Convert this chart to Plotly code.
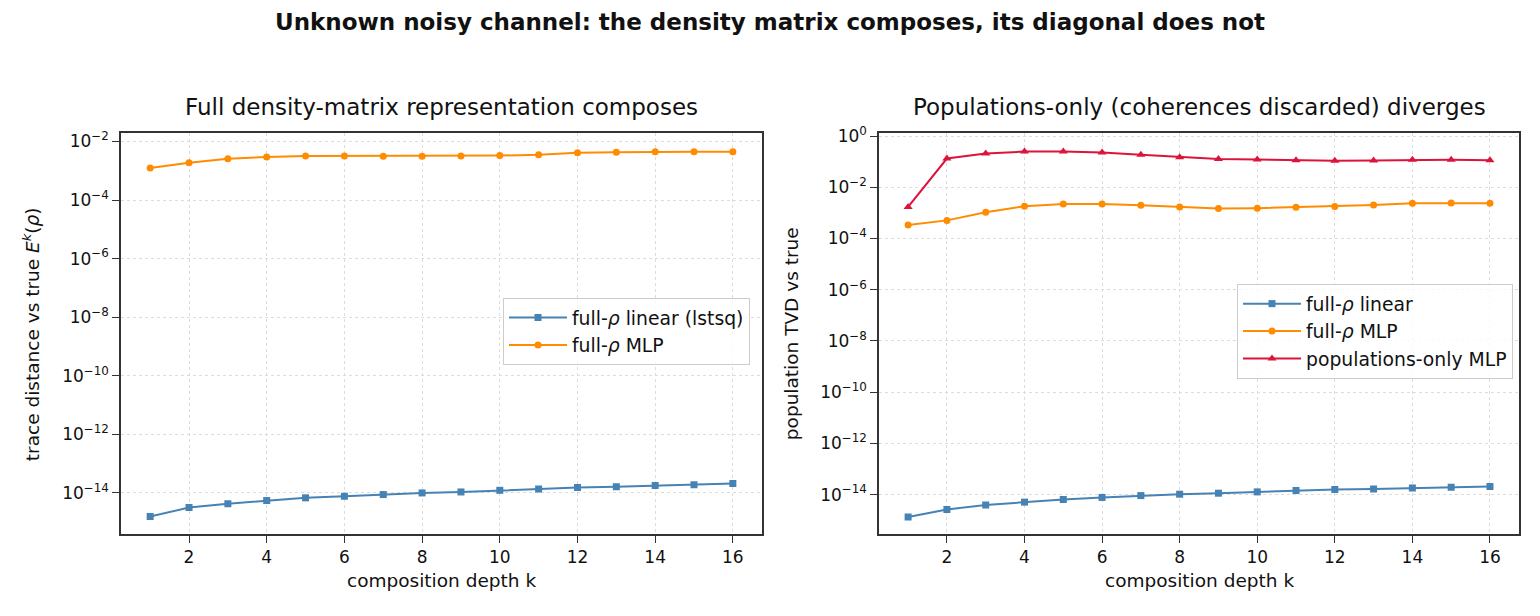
import plotly.graph_objects as go
from plotly.subplots import make_subplots

k = list(range(1, 17))

left_linear = [1.56e-15, 3.16e-15, 4.3e-15, 5.5e-15, 6.8e-15, 7.7e-15, 8.8e-15, 1.0e-14,
               1.08e-14, 1.23e-14, 1.37e-14, 1.52e-14, 1.64e-14, 1.78e-14, 1.92e-14, 2.08e-14]
left_mlp = [1.25e-3, 1.88e-3, 2.55e-3, 2.95e-3, 3.2e-3, 3.2e-3, 3.15e-3, 3.15e-3,
            3.2e-3, 3.3e-3, 3.55e-3, 4.1e-3, 4.25e-3, 4.45e-3, 4.5e-3, 4.45e-3]

right_linear = [1.33e-15, 2.63e-15, 3.9e-15, 5.06e-15, 6.4e-15, 7.7e-15, 9.1e-15, 1.03e-14,
                1.13e-14, 1.27e-14, 1.43e-14, 1.56e-14, 1.65e-14, 1.81e-14, 1.92e-14, 2.04e-14]
right_mlp = [3.35e-4, 5.1e-4, 1.06e-3, 1.82e-3, 2.23e-3, 2.23e-3, 1.99e-3, 1.71e-3,
             1.47e-3, 1.52e-3, 1.66e-3, 1.76e-3, 2.04e-3, 2.37e-3, 2.44e-3, 2.37e-3]
right_pop = [1.7e-3, 0.133, 0.209, 0.248, 0.248, 0.228, 0.185, 0.150,
             0.126, 0.122, 0.115, 0.108, 0.111, 0.118, 0.118, 0.115]

x_ticks = [2, 4, 6, 8, 10, 12, 14, 16]
left_yticks_exp = [-2, -4, -6, -8, -10, -12, -14]
right_yticks_exp = [0, -2, -4, -6, -8, -10, -12, -14]

BLUE = "#4682B4"
ORANGE = "#FF8C00"
RED = "#DC143C"
FONT = "DejaVu Sans"

fig = make_subplots(rows=1, cols=2)

def add(col, y, name, color, symbol, size, legend):
    fig.add_trace(go.Scatter(x=k, y=y, name=name, mode="lines+markers",
                             line=dict(color=color, width=2),
                             marker=dict(symbol=symbol, size=size, color=color),
                             legend=legend), row=1, col=col)

add(1, left_linear, "full-<i>ρ</i> linear (lstsq)", BLUE, "square", 7, "legend")
add(1, left_mlp, "full-<i>ρ</i> MLP", ORANGE, "circle", 7, "legend")
add(2, right_linear, "full-<i>ρ</i> linear", BLUE, "square", 7, "legend2")
add(2, right_mlp, "full-<i>ρ</i> MLP", ORANGE, "circle", 7, "legend2")
add(2, right_pop, "populations-only MLP", RED, "triangle-up", 8, "legend2")

def sup(e):
    return "10<sup>" + ("−" + str(-e) if e < 0 else str(e)) + "</sup>"

axis_common = dict(showline=True, linecolor="#333333", linewidth=1.5, mirror=True,
                   ticks="outside", ticklen=7, tickwidth=1.2, tickcolor="#333333",
                   showgrid=True, gridcolor="#dcdcdc", griddash="dot", gridwidth=1,
                   zeroline=False, tickfont=dict(family=FONT, size=17, color="#111"))

fig.update_xaxes(**axis_common, range=[0.25, 16.75], tickvals=x_ticks)
fig.update_xaxes(domain=[0.0786, 0.4948], row=1, col=1)
fig.update_xaxes(domain=[0.5708, 0.9864], row=1, col=2)
fig.update_yaxes(**axis_common, type="log", domain=[0.1347, 0.7955])
fig.update_yaxes(range=[-15.41, -1.715], tickvals=[10.0 ** e for e in left_yticks_exp],
                 ticktext=[sup(e) for e in left_yticks_exp], row=1, col=1)
fig.update_yaxes(range=[-15.55, 0.115], tickvals=[10.0 ** e for e in right_yticks_exp],
                 ticktext=[sup(e) for e in right_yticks_exp], row=1, col=2)

ann = [
    dict(text="<b>Unknown noisy channel: the density matrix composes, its diagonal does not</b>",
         x=0.5, y=1 - 13 / 616, font=dict(size=23)),
    dict(text="Full density-matrix representation composes", x=(0.0786 + 0.4948) / 2,
         y=1 - 99 / 616, font=dict(size=23)),
    dict(text="Populations-only (coherences discarded) diverges", x=(0.5708 + 0.9864) / 2,
         y=1 - 99 / 616, font=dict(size=23)),
    dict(text="composition depth k", x=(0.0786 + 0.4948) / 2, y=1 - 580 / 616, font=dict(size=18.5)),
    dict(text="composition depth k", x=(0.5708 + 0.9864) / 2, y=1 - 580 / 616, font=dict(size=18.5)),
    dict(text="trace distance vs true <i>E</i><sup><i>k</i></sup>(<i>ρ</i>)", x=31 / 1540,
         y=1 - 330 / 616, textangle=-90, font=dict(size=18.5)),
    dict(text="population TVD vs true", x=791 / 1540, y=1 - 330 / 616, textangle=-90,
         font=dict(size=18.5)),
]
for a in ann:
    a.update(xref="paper", yref="paper", showarrow=False, xanchor="center", yanchor="middle")
    a["font"].update(family=FONT, color="#111")
fig.update_layout(annotations=ann)

legend_style = dict(bgcolor="rgba(255,255,255,0.8)", bordercolor="#cccccc", borderwidth=1,
                    font=dict(family=FONT, size=18.8, color="#111"), xanchor="left", yanchor="top",
                    tracegroupgap=2, itemwidth=58)
fig.update_layout(
    width=1540, height=616, margin=dict(l=0, r=0, t=0, b=0),
    paper_bgcolor="white", plot_bgcolor="white",
    font=dict(family=FONT),
    legend=dict(**legend_style, x=503 / 1540, y=1 - 293 / 616),
    legend2=dict(**legend_style, x=1237 / 1540, y=1 - 279 / 616),
)

fig.write_html("out.html")
